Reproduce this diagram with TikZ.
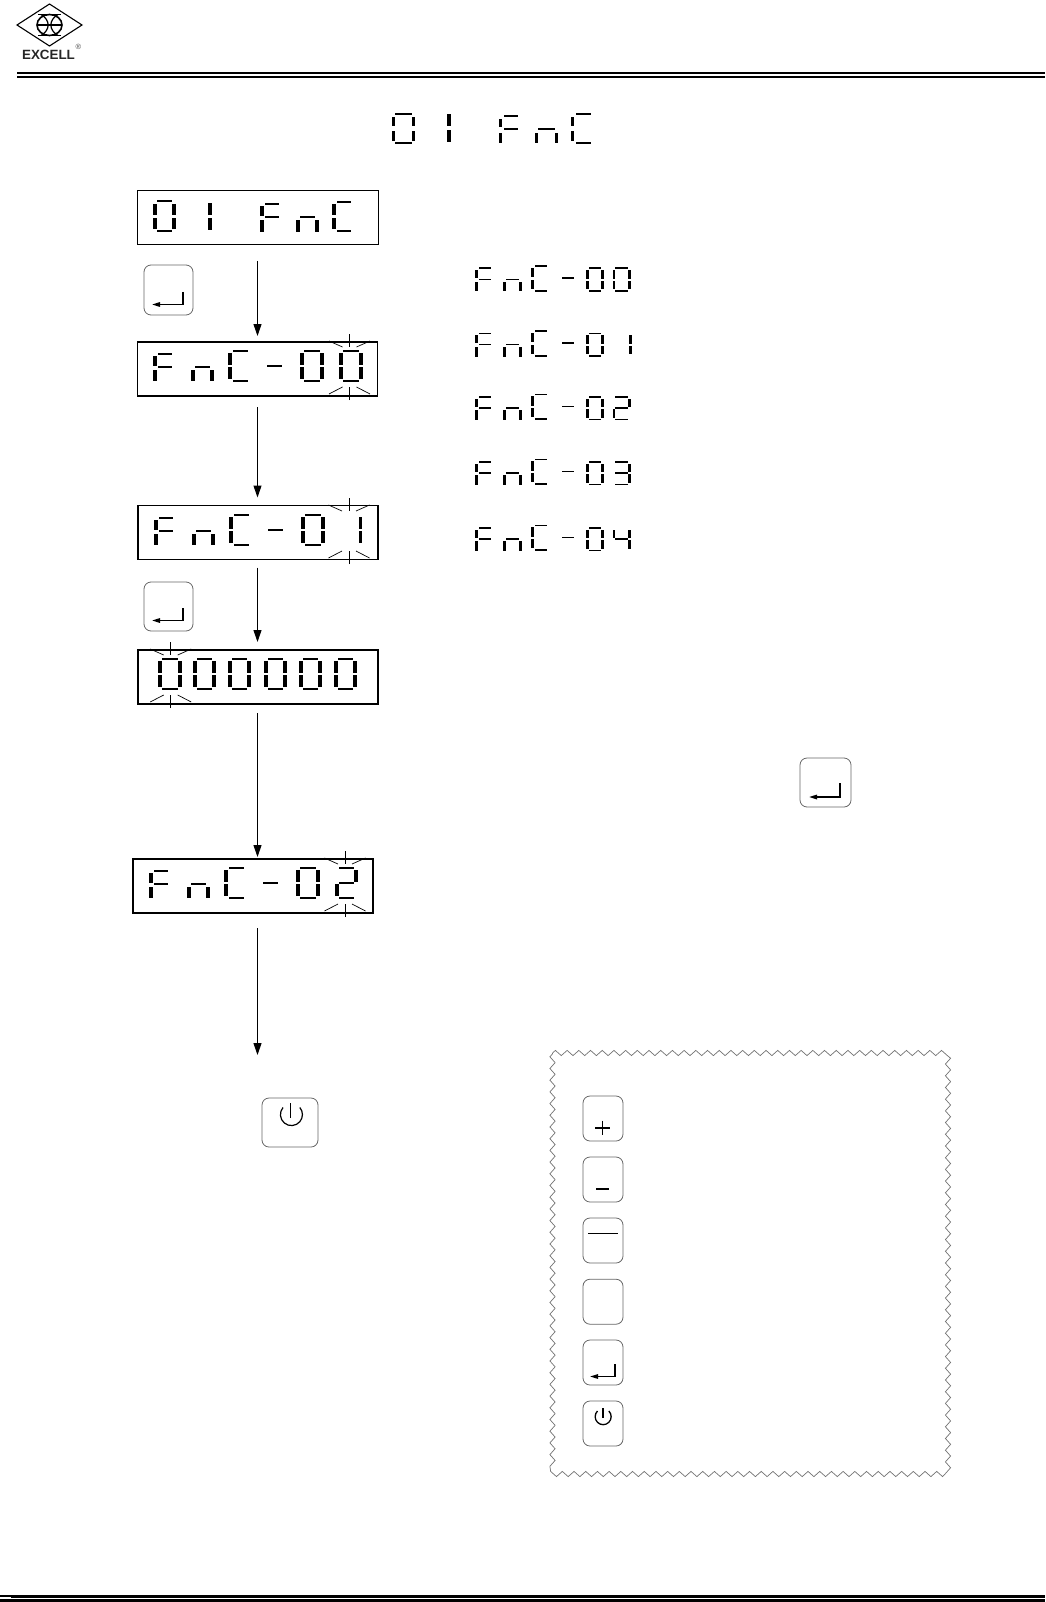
\documentclass[tikz,border=0pt]{standalone}
\usepackage{fontspec}
\setmainfont{Liberation Sans}
\usetikzlibrary{arrows.meta,decorations.pathmorphing}
\tikzset{
  dispbox/.style={draw=black,line width=1.3pt,minimum width=240pt,minimum height=54pt,inner sep=0pt,outer sep=0pt},
  keybox/.style={draw=black!60,line width=0.8pt,rounded corners=7pt,inner sep=0pt,outer sep=0pt},
  arr/.style={line width=1pt,-{Triangle[width=8pt,length=12pt]}},
  enterarr/.style={line width=1.5pt,-{Triangle[width=4.5pt,length=8pt]}},
  pwr/.style={line width=1.1pt,black},
  flashline/.style={line width=0.7pt,black},
}
\def\segV{3.8}\def\segH{2}\def\segGap{1.4}\def\segTop{1.4}
\newcommand\gl[5]{\def\gx{#1}\def\gy{#2}\def\gw{#3}\def\gh{#4}#5}
\newcommand\segA{\fill (\gx+\segV,\gy) rectangle (\gx+\gw-\segV,\gy+\segH);}
\newcommand\segD{\fill (\gx+\segV,\gy+\gh-\segH) rectangle (\gx+\gw-\segV,\gy+\gh);}
\newcommand\segG{\fill (\gx+\segV,\gy+\gh/2-\segH/2) rectangle (\gx+\gw-\segV,\gy+\gh/2+\segH/2);}
\newcommand\segF{\fill (\gx,\gy+\segH+\segTop) rectangle (\gx+\segV,\gy+\gh/2-\segGap);}
\newcommand\segE{\fill (\gx,\gy+\gh/2+\segGap) rectangle (\gx+\segV,\gy+\gh-\segH-\segTop);}
\newcommand\segB{\fill (\gx+\gw-\segV,\gy+\segH+\segTop) rectangle (\gx+\gw,\gy+\gh/2-\segGap);}
\newcommand\segC{\fill (\gx+\gw-\segV,\gy+\gh/2+\segGap) rectangle (\gx+\gw,\gy+\gh-\segH-\segTop);}
% open-sided bars and full-length feet for letters
\newcommand\barA{\fill (\gx+\segV+1.2,\gy) rectangle (\gx+\gw,\gy+\segH);}
\newcommand\barG{\fill (\gx+\segV+1.2,\gy+\gh/2-\segH/2) rectangle (\gx+\gw,\gy+\gh/2+\segH/2);}
\newcommand\barD{\fill (\gx+\segV+1.2,\gy+\gh-\segH) rectangle (\gx+\gw,\gy+\gh);}
\newcommand\footE{\fill (\gx,\gy+\gh/2+\segGap+1.5) rectangle (\gx+\segV,\gy+\gh);}
\newcommand\footC{\fill (\gx+\gw-\segV,\gy+\gh/2+\segGap+1.5) rectangle (\gx+\gw,\gy+\gh);}
\newcommand\lsF{\barA\segF\footE\barG}
\newcommand\lsN{\segG\footE\footC}
\newcommand\lsC{\barA\segF\segE\barD}
\newcommand\lsZ{\segA\segB\segC\segD\segE\segF}
\newcommand\lsOne{\segB\segC}
\newcommand\lsTwo{\segA\segB\segG\segE\segD}
\newcommand\lsThree{\segA\segB\segG\segC\segD}
\newcommand\lsFour{\segF\segB\segG\segC}
% display row: left edge of box, top of box, last digit x offset/width/segments
\newcommand\fndisp[5]{%
  \gl{#1+16}{#2+10.7}{19}{28.5}{\lsF}%
  \gl{#1+54}{#2+10.7}{23}{28.5}{\lsN}%
  \gl{#1+91}{#2+8}{20}{32}{\lsC}%
  \fill (#1+130,#2+23.2) rectangle (#1+145,#2+25);%
  \gl{#1+163}{#2+8}{24}{32}{\lsZ}%
  \gl{#1+#3}{#2+8}{#4}{32}{#5}}
% right column row
\newcommand\fnrow[4]{%
  \gl{475}{#1+0.8}{16}{24}{\lsF}%
  \gl{503}{#1+0.8}{19}{24}{\lsN}%
  \gl{530.7}{#1-1.5}{16}{26.5}{\lsC}%
  \fill (561.5,#1+10.5) rectangle (574,#1+12.3);%
  \gl{586}{#1+0.8}{18}{24.5}{\lsZ}%
  \gl{#2}{#1+0.8}{#3}{24.5}{#4}}
% flash marks
\newcommand\flash[3]{%
  \draw[flashline] (#1,#2-8) -- (#1,#2+5);
  \draw[flashline] (#1-20.5,#2-1) -- (#1-7,#2+5);
  \draw[flashline] (#1+20.5,#2-1) -- (#1+7,#2+5);
  \draw[flashline] (#1,#3+4) -- (#1,#3-9);
  \draw[flashline] (#1-20.5,#3-2) -- (#1-7,#3-9);
  \draw[flashline] (#1+20.5,#3-2) -- (#1+7,#3-9);}
\newcommand\entersym[3]{%
  \draw[line width=1.4pt,line cap=butt] (#1,#2) -- (#1,#3);
  \draw[enterarr] (#1+0.7,#3) -- (#1-31,#3);}
\begin{document}
\begin{tikzpicture}[x=1pt,y=-1pt]
\useasboundingbox (0,0) rectangle (1045,1602);
% header
\draw[line width=1.1pt] (49.5,4) -- (82,25) -- (49.5,46) -- (17,25) -- cycle;
\draw[line width=1.6pt] (49.5,25) ellipse [x radius=12.5,y radius=10.5];
\draw[line width=1.8pt] (38,14.5) -- (61,14.5) (38,35.5) -- (61,35.5);
\draw[line width=1.2pt] (37,25) -- (62,25);
\draw[line width=1.2pt] (41,14.5) .. controls (50.5,20) and (50.5,30) .. (41,35.5);
\draw[line width=1.2pt] (58,14.5) .. controls (48.5,20) and (48.5,30) .. (58,35.5);
\node[inner sep=0pt,font=\bfseries\fontsize{13.4}{15}\selectfont,text=black!85] (brand) at (48.5,55.3) {EXCELL};
\node[inner sep=0pt,font=\fontsize{7.5}{8}\selectfont,text=black!70] (regmark) at (78.3,47.3) {®};
\draw[line width=2.4pt] (17,73.2) -- (1045,73.2);
\draw[line width=1.6pt] (17,77.2) -- (1045,77.2);
\draw[line width=3.3pt] (11,1596.7) -- (1045,1596.7);
\draw[line width=2.7pt] (11,1600.6) -- (1045,1600.6);
\draw[line width=1.6pt] (0,1596.2) -- (11,1596.2);
\draw[line width=2.7pt] (0,1600.6) -- (11,1600.6);
% title
\def\segV{3.4}\def\segGap{2.4}\def\segTop{1.8}
\gl{392}{113}{23}{31.5}{\lsZ}
\gl{499}{115}{19}{28.5}{\lsF}
\gl{535}{115}{23}{28.5}{\lsN}
\gl{571}{113}{19.5}{31.5}{\lsC}
\def\segV{4.4}
\gl{447}{110.5}{4.4}{35}{\lsOne}
\def\segV{3.8}\def\segGap{1.4}\def\segTop{1.4}
% display boxes
\node[dispbox,line width=1pt,minimum width=241pt] (a) at (257.5,218) {};
\node[dispbox] (b) at (257.7,369) {};
\node[dispbox] (c) at (258,532.5) {};
\node[dispbox] (d) at (258,677) {};
\node[dispbox] (e) at (253,886) {};
\coordinate (endpt) at (257.5,1055);
% display a
\gl{153}{200.5}{23}{31.5}{\lsZ}
\gl{260}{203}{19}{29}{\lsF}
\gl{296}{203}{23}{29}{\lsN}
\gl{332}{201}{19}{31}{\lsC}
\def\segV{4.4}
\gl{207.8}{199.5}{4.4}{34}{\lsOne}
\def\segV{3.8}
% display b, c, e
\fndisp{137}{342}{202}{23.5}{\lsZ}
\flash{349.5}{342}{396}
\fndisp{138}{506}{220.5}{3.8}{\lsOne}
\flash{349}{506}{560}
\fndisp{133}{859}{202}{23}{\lsTwo}
\flash{345}{859}{913}
% display d
\gl{158}{658}{24}{32}{\lsZ}
\gl{193}{658}{23}{32}{\lsZ}
\gl{228}{658}{23}{32}{\lsZ}
\gl{264}{658}{23}{32}{\lsZ}
\gl{299}{658}{22.5}{32}{\lsZ}
\gl{334}{658}{22.5}{32}{\lsZ}
\flash{170.7}{650}{704}
% connectors
\draw[arr,shorten <=16pt,shorten >=6pt] (a.south) -- (a.south |- b.north);
\draw[arr,shorten <=11pt,shorten >=8pt] (a.south |- b.south) -- (a.south |- c.north);
\draw[arr,shorten <=8pt,shorten >=8pt] (a.south |- c.south) -- (a.south |- d.north);
\draw[arr,shorten <=9pt,shorten >=2pt] (a.south |- d.south) -- (a.south |- e.north);
\draw[arr,shorten <=15pt] (endpt |- e.south) -- (endpt);
% right column
\def\segV{2.8}\def\segH{1.8}\def\segGap{1.1}\def\segTop{1}
\fnrow{266.7}{612.5}{18.5}{\lsZ}
\fnrow{331.7}{628.7}{2.8}{\lsOne}
\fnrow{395}{612.5}{18.5}{\lsTwo}
\fnrow{460}{612.5}{18.5}{\lsThree}
\fnrow{526}{612.5}{18.5}{\lsFour}
% key buttons
\node[keybox,minimum width=49pt,minimum height=50pt] (k1) at (168.5,290) {};
\entersym{183}{292}{304.5}
\node[keybox,minimum width=49pt,minimum height=49pt] (k2) at (168.5,606.5) {};
\entersym{183}{608}{620.5}
\node[keybox,minimum width=51pt,minimum height=49pt] (k3) at (825.5,782.5) {};
\entersym{840}{783}{797}
\node[keybox,minimum width=56pt,minimum height=49pt] (k4) at (290,1122.5) {};
\draw[pwr,line width=1.2pt] (283,1107.5) arc [start angle=220,end angle=-40,radius=11];
\draw[pwr,line width=1.2pt] (290.7,1103) -- (290.7,1118);
% legend
\draw[black!55,line width=0.7pt,decorate,decoration={zigzag,segment length=11.7pt,amplitude=2.6pt}]
  (552.5,1053) -- (948,1053) -- (948,1474) -- (552.5,1474) -- cycle;
\node[keybox,minimum width=40pt,minimum height=45pt] (p) at (603,1118.5) {};
\draw[line width=1.1pt] (595,1128) -- (610,1128) (602.5,1120.5) -- (602.5,1135);
\node[keybox,minimum width=40pt,minimum height=45pt] (q) at (603,1179.5) {};
\draw[line width=1.7pt] (596,1189) -- (609,1189);
\node[keybox,minimum width=40pt,minimum height=45pt] (r) at (603,1240.5) {};
\draw[line width=1.8pt] (588,1233.5) -- (618,1233.5);
\node[keybox,minimum width=40pt,minimum height=45pt] (s) at (603,1301.7) {};
\node[keybox,minimum width=40pt,minimum height=45pt] (t) at (603,1362.5) {};
\draw[line width=1.3pt] (615,1364) -- (615,1376.5);
\draw[line width=1.3pt,-{Triangle[width=4.5pt,length=8pt]}] (615.6,1376.5) -- (590,1376.5);
\node[keybox,minimum width=40pt,minimum height=45pt] (u) at (603,1423.5) {};
\draw[pwr,line width=1.3pt] (597.5,1411) arc [start angle=225,end angle=-45,radius=8];
\draw[pwr,line width=1.3pt] (603,1408) -- (603,1418);
\end{tikzpicture}
\end{document}
